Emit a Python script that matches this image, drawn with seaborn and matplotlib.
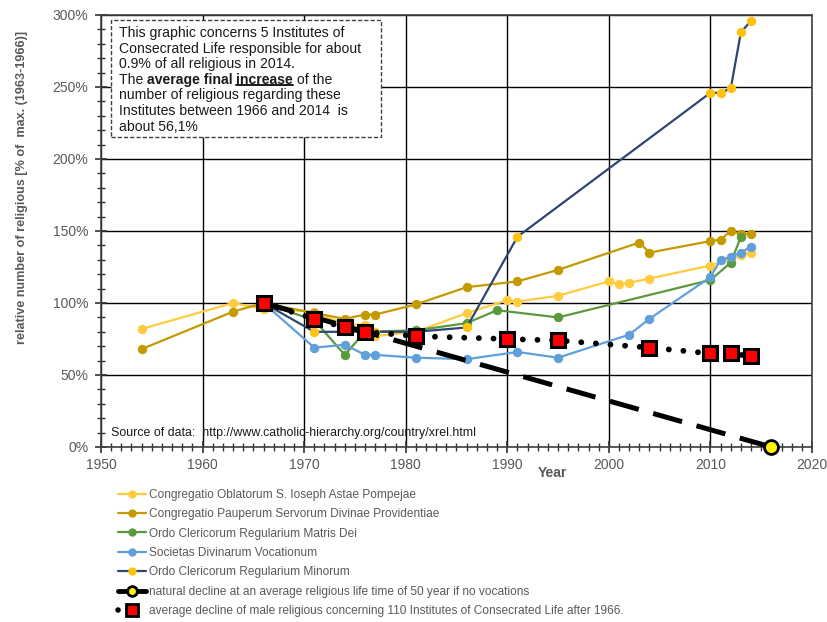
import matplotlib
matplotlib.use("Agg")
import matplotlib.pyplot as plt
import seaborn as sns
from matplotlib.lines import Line2D
from matplotlib.patches import Rectangle
from matplotlib.ticker import MultipleLocator, PercentFormatter

# data
years_oblat = [1954, 1963, 1966, 1971, 1974, 1976, 1977, 1981, 1986, 1990, 1991, 1995,
               2000, 2001, 2002, 2004, 2010, 2012, 2013, 2014]
vals_oblat = [82, 100, 96, 94, 85, 85, 77, 80, 93, 102, 101, 105,
              115, 113, 114, 117, 126, 131, 133, 135]

years_paup = [1954, 1963, 1966, 1971, 1974, 1976, 1977, 1981, 1986, 1991, 1995,
              2003, 2004, 2010, 2011, 2012, 2013, 2014]
vals_paup = [68, 94, 100, 93, 89, 92, 92, 99, 111, 115, 123,
             142, 135, 143, 144, 150, 148, 148]

years_mdei = [1966, 1971, 1974, 1976, 1981, 1986, 1989, 1995, 2010, 2012, 2013]
vals_mdei = [100, 88, 64, 80, 81, 86, 95, 90, 116, 128, 146]

years_voc = [1966, 1971, 1974, 1976, 1977, 1981, 1986, 1991, 1995, 2002, 2004,
             2010, 2011, 2012, 2013, 2014]
vals_voc = [100, 69, 71, 64, 64, 62, 61, 66, 62, 78, 89,
            118, 130, 132, 135, 139]

years_min = [1966, 1971, 1976, 1977, 1981, 1986, 1991, 2010, 2011, 2012, 2013, 2014]
vals_min = [100, 80, 80, 80, 80, 83, 146, 246, 246, 249, 288, 296]

years_natural = [1966, 2016]
vals_natural = [100, 0]

years_avg = [1966, 1971, 1974, 1976, 1981, 1990, 1995, 2004, 2010, 2012, 2014]
vals_avg = [100, 89, 83, 80, 77, 75, 74, 69, 65, 65, 63]

labels = [
    "Congregatio Oblatorum S. Ioseph Astae Pompejae",
    "Congregatio Pauperum Servorum Divinae Providentiae",
    "Ordo Clericorum Regularium Matris Dei",
    "Societas Divinarum Vocationum",
    "Ordo Clericorum Regularium Minorum",
    "natural decline at an average religious life time of 50 year if no vocations",
    "average decline of male religious concerning 110 Institutes of Consecrated Life after 1966.",
]

sns.set_style("white")
plt.rcParams["font.family"] = ["Liberation Sans", "DejaVu Sans"]

fig = plt.figure(figsize=(8.28, 6.22), dpi=100)
ax = fig.add_axes([101 / 828, 1 - 447 / 622, 711 / 828, 432 / 622])

series = [
    (years_oblat, vals_oblat, "#FFCC40", "#FFCC40"),
    (years_paup, vals_paup, "#C49A00", "#C49A00"),
    (years_mdei, vals_mdei, "#5B9A3C", "#5B9A3C"),
    (years_voc, vals_voc, "#5FA0DA", "#5FA0DA"),
    (years_min, vals_min, "#2E4673", "#FFC20E"),
]
handles = []
for (xs, ys, col, mcol), lab in zip(series, labels[:5]):
    sns.lineplot(x=xs, y=ys, ax=ax, color=col, lw=1.6, marker="o", markersize=6,
                 markerfacecolor=mcol, markeredgecolor=mcol, sort=False,
                 estimator=None, zorder=3)
    handles.append(Line2D([], [], color=col, lw=1.6, marker="o", markersize=5,
                          markerfacecolor=mcol, markeredgecolor=mcol, label=lab))

# natural decline (dashed) with yellow end point
ax.plot(years_natural, vals_natural, color="black", lw=3.6, ls=(0, (6, 3)),
        solid_capstyle="butt", zorder=4)
ax.plot(years_natural[-1:], vals_natural[-1:], "o", color="#FFF200", markersize=10,
        markeredgecolor="black", markeredgewidth=2, zorder=6, clip_on=False)
handles.append(Line2D([], [], color="black", lw=3.5, marker="o", markersize=7,
                      markerfacecolor="#FFF200", markeredgecolor="black",
                      markeredgewidth=2, label=labels[5]))

# average decline (dotted) with red squares
ax.plot(years_avg, vals_avg, color="black", lw=4.2, ls=(0, (0.01, 2.5)),
        dash_capstyle="round", zorder=5)
ax.plot(years_avg, vals_avg, "s", color="#FF0000", markersize=10,
        markeredgecolor="black", markeredgewidth=2.2, zorder=6, ls="none")
handles.append(Line2D([], [], color="black", lw=4, ls=(0, (0.01, 2.6)),
                      dash_capstyle="round", marker="s", markersize=8,
                      markerfacecolor="#FF0000", markeredgecolor="black",
                      markeredgewidth=2, markevery=[1], label=labels[6]))

ax.set_xlim(1950, 2020)
ax.set_ylim(0, 300)
ax.xaxis.set_major_locator(MultipleLocator(10))
ax.xaxis.set_minor_locator(MultipleLocator(1))
ax.yaxis.set_major_locator(MultipleLocator(50))
ax.yaxis.set_minor_locator(MultipleLocator(10))
ax.yaxis.set_major_formatter(PercentFormatter(decimals=0))
ax.grid(True, which="major", color="black", lw=1)
for sp in ax.spines.values():
    sp.set_color("#404040")
    sp.set_linewidth(1.2)
ax.tick_params(which="major", direction="inout", length=8, width=1.2, color="#303030",
               labelsize=10, labelcolor="#595959")
ax.tick_params(axis="y", which="major", pad=5)
ax.tick_params(axis="x", which="major", pad=4)
ax.tick_params(which="minor", direction="inout", length=6, width=1, color="#303030")
ax.tick_params(axis="x", which="both", bottom=True)
ax.tick_params(axis="y", which="both", left=True)

ax.set_xlabel("Year", fontsize=10, fontweight="bold", color="#595959")
ax.xaxis.set_label_coords((552 - 101) / 711, -0.043)
ax.set_ylabel("relative number of religious [% of  max. (1963-1966)]", fontsize=9.1,
              fontweight="bold", color="#595959")
ax.yaxis.set_label_coords((28 - 101) / 711, (447 - 187) / 432)

# info box
ax.add_patch(Rectangle((0.014, 0.7176), 0.38, 0.2704, transform=ax.transAxes,
                       facecolor="white", edgecolor="#404040", lw=1, ls=(0, (3, 1.5)),
                       zorder=7))
box_lines = [
    "This graphic concerns 5 Institutes of",
    "Consecrated Life responsible for about",
    "0.9% of all religious in 2014.",
    None,
    "number of religious regarding these",
    "Institutes between 1966 and 2014  is",
    "about 56,1%",
]
x0 = 0.025
y0 = (447 - 37) / 432
step = 15.6 / 432
fs = 10.1
for i, s in enumerate(box_lines):
    if s is None:
        continue
    ax.text(x0, y0 - i * step, s, transform=ax.transAxes, fontsize=fs,
            color="#1a1a1a", va="baseline", zorder=8)
yl = y0 - 3 * step
t1 = ax.text(x0, yl, "The ", transform=ax.transAxes, fontsize=fs, color="#1a1a1a",
             va="baseline", zorder=8)
t2 = ax.annotate("average final ", xy=(1, 0), xycoords=t1, va="bottom", fontsize=fs,
                 fontweight="bold", color="#1a1a1a", zorder=8)
t3 = ax.annotate("increase", xy=(1, 0), xycoords=t2, va="bottom", fontsize=fs,
                 fontweight="bold", color="#1a1a1a", zorder=8)
t4 = ax.annotate(" of the", xy=(1, 0), xycoords=t3, va="bottom", fontsize=fs,
                 color="#1a1a1a", zorder=8)

ax.text(0.014, 0.032, "Source of data:  http://www.catholic-hierarchy.org/country/xrel.html",
        transform=ax.transAxes, fontsize=8.9, color="#1a1a1a", va="center", zorder=8)

fig.legend(handles=handles, loc="upper left", bbox_to_anchor=(113 / 828, 1 - 484 / 622),
           frameon=False, fontsize=8.6, handlelength=2.4, handletextpad=0.2,
           labelspacing=0.62, labelcolor="#595959", borderaxespad=0)

# underline the word "increase"
fig.canvas.draw()
bb = t3.get_window_extent().transformed(ax.transAxes.inverted())
yb = ax.transAxes.inverted().transform((0, t3.get_window_extent().y0 + 2))[1]
ax.add_line(Line2D([bb.x0, bb.x1], [yb, yb], transform=ax.transAxes, color="#1a1a1a",
                   lw=1.4, zorder=8))

fig.savefig("out.png", dpi=100)
